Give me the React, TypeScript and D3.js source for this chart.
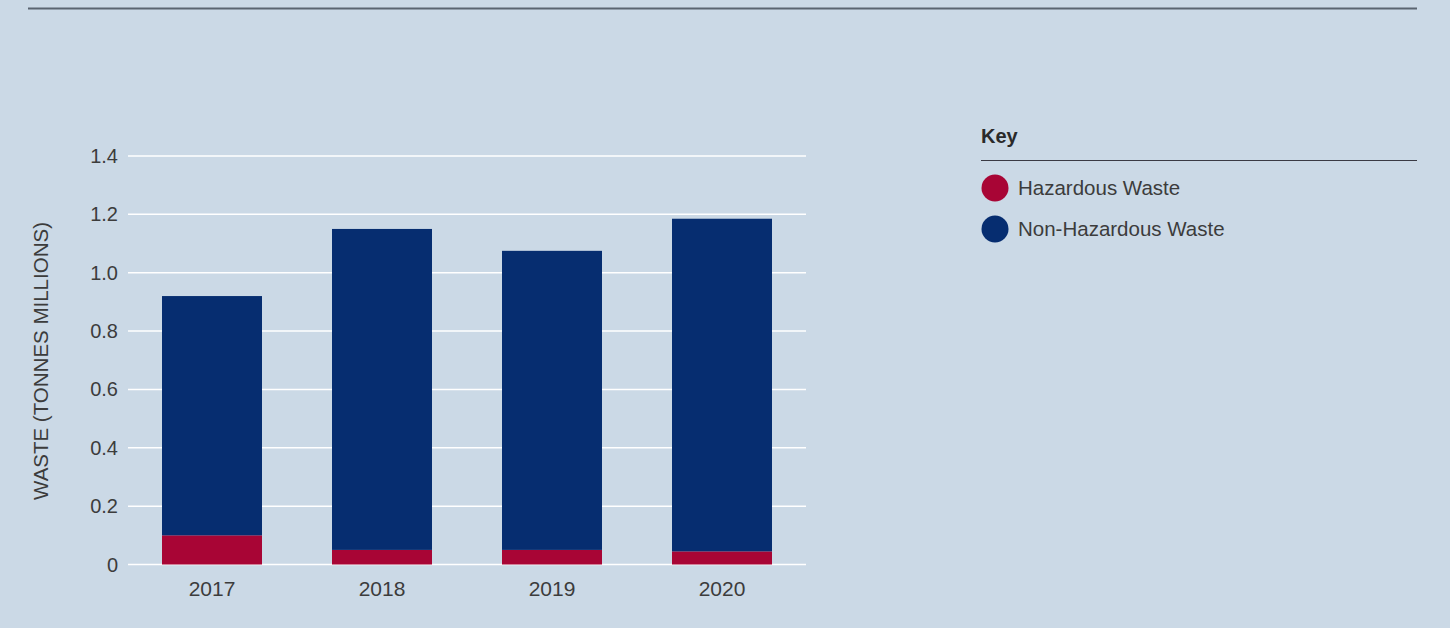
import React from "react";
import * as d3 from "d3";

const years = ["2017", "2018", "2019", "2020"];
const hazardous = [0.1, 0.05, 0.05, 0.045];
const nonHazardous = [0.82, 1.1, 1.025, 1.14];
const yTicks = [0, 0.2, 0.4, 0.6, 0.8, 1.0, 1.2, 1.4];
const seriesNames = ["Hazardous Waste", "Non-Hazardous Waste"];
const seriesColors = ["#a80535", "#062d70"];

const W = 1450;
const H = 628;
const BG = "#cbd9e6";
const FONT = "'Liberation Sans', Arial, Helvetica, sans-serif";
const TXT = "#3c3c3c";

export default function App() {
  const x = d3
    .scaleBand<string>()
    .domain(years)
    .range([127, 807])
    .paddingInner(0.4118)
    .paddingOuter(0.2059);
  const y = d3.scaleLinear().domain([0, 1.4]).range([564.5, 156]);

  const rows = years.map((yr, i) => ({ year: yr, haz: hazardous[i], non: nonHazardous[i] }));
  const stack = d3.stack<any>().keys(["haz", "non"])(rows);

  const fmt = (v: number) => (v === 0 ? "0" : d3.format(".1f")(v));

  return (
    <div style={{ position: "absolute", left: 0, top: 0, width: W, height: H, background: BG }}>
      <svg width={W} height={H} style={{ display: "block", fontFamily: FONT }}>
        <rect x={0} y={0} width={W} height={H} fill={BG} />
        <line x1={28} x2={1417} y1={8.5} y2={8.5} stroke="#5a6470" strokeWidth={2} />

        {yTicks.map((t) => (
          <g key={t}>
            <line x1={128} x2={806} y1={y(t)} y2={y(t)} stroke="#ffffff" strokeWidth={1.5} />
            <text
              x={118}
              y={y(t)}
              dy="0.35em"
              textAnchor="end"
              fontSize={20}
              fill={TXT}
            >
              {fmt(t)}
            </text>
          </g>
        ))}

        {stack.map((s, si) => (
          <g key={si} fill={seriesColors[si]}>
            {s.map((d: any, i: number) => (
              <rect
                key={i}
                x={x(years[i])}
                width={x.bandwidth()}
                y={y(d[1])}
                height={y(d[0]) - y(d[1])}
              />
            ))}
          </g>
        ))}

        {years.map((yr) => (
          <text
            key={yr}
            x={(x(yr) as number) + x.bandwidth() / 2}
            y={596}
            textAnchor="middle"
            fontSize={21}
            fill={TXT}
          >
            {yr}
          </text>
        ))}

        <text
          transform={`translate(48, 361) rotate(-90)`}
          textAnchor="middle"
          fontSize={20.5}
          fill={TXT}
        >
          WASTE (TONNES MILLIONS)
        </text>

        <text x={981} y={143} fontSize={20} fontWeight="bold" fill="#2a2a2a">
          Key
        </text>
        <line x1={981} x2={1417} y1={160.5} y2={160.5} stroke="#3a3a44" strokeWidth={1.2} />
        {seriesNames.map((n, i) => (
          <g key={n}>
            <circle cx={995} cy={188 + i * 41} r={13.5} fill={seriesColors[i]} />
            <text x={1018} y={188 + i * 41} dy="0.35em" fontSize={20.5} fill={TXT}>
              {n}
            </text>
          </g>
        ))}
      </svg>
    </div>
  );
}
